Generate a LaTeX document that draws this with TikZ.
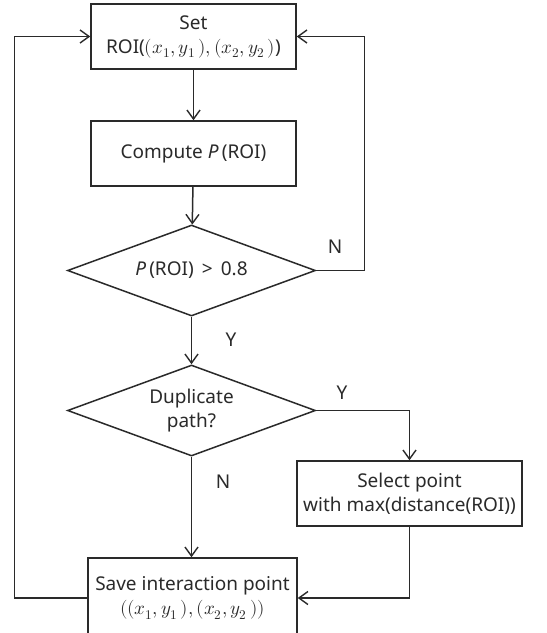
\documentclass[tikz,border=0pt]{standalone}
\usepackage{unicode-math}
\setmainfont{Noto Sans}
\setmathfont{Latin Modern Math}
\usetikzlibrary{arrows.meta,shapes.geometric}
\definecolor{lc}{HTML}{2A2A2A}
\tikzset{
  box/.style={draw=lc, rectangle, align=center, inner sep=0pt, minimum width=205pt, minimum height=65pt, text=lc},
  dec/.style={draw=lc, diamond, aspect=2.7, align=center, inner sep=0pt, minimum width=248pt, minimum height=91pt, text=lc},
  arr/.style={draw=lc, -{Straight Barb[length=9pt,width=13pt,line width=1.4pt]}},
  lbl/.style={text=lc}
}
\begin{document}
\begin{tikzpicture}[x=1pt,y=-1pt,line width=1.5pt,font=\fontsize{19}{24}\selectfont]
\useasboundingbox (0,0) rectangle (547,633);
\clip (0,0) rectangle (547,633);
\fill[white] (0,0) rectangle (547,633);
\node[box] (set) at (193.5,36.5) {Set\\ROI($(x_1,y_1\,),(x_2,y_2\,)$)};
\node[box] (comp) at (193.5,153.5) {Compute \textit{P}\,(ROI)};
\node[dec] (d1) at (191.5,270.5) {\textit{P}\,(ROI)\, >\, 0.8};
\node[dec] (d2) at (191.5,410.5) {Duplicate\\path?};
\node[box, minimum width=225pt] (sel) at (409.5,493.5) {Select point\\with max(distance(ROI))};
\node[box, minimum width=209pt, minimum height=80pt] (save) at (192.5,598) {Save interaction point\\$((x_1,y_1\,),(x_2,y_2\,))$};
\draw[arr] (set) -- (comp);
\draw[arr] (comp) -- (d1);
\draw[arr] (d1) -- (d2);
\node[lbl] (ly1) at (231,340) {Y};
\draw[arr] (d1.east) -- ++(48,0) |- (set.east);
\node[lbl] (ln1) at (335,247) {N};
\draw[arr] (d2.east) -| (sel.north);
\node[lbl] (ly2) at (342,393) {Y};
\draw[arr] (d2.south) -- (d2.south |- save.north);
\node[lbl] (ln2) at (223,482) {N};
\draw[arr] (sel.south) |- (save.east);
\draw[arr] (save.west) -- ++(-73,0) |- (set.west);
\end{tikzpicture}
\end{document}
